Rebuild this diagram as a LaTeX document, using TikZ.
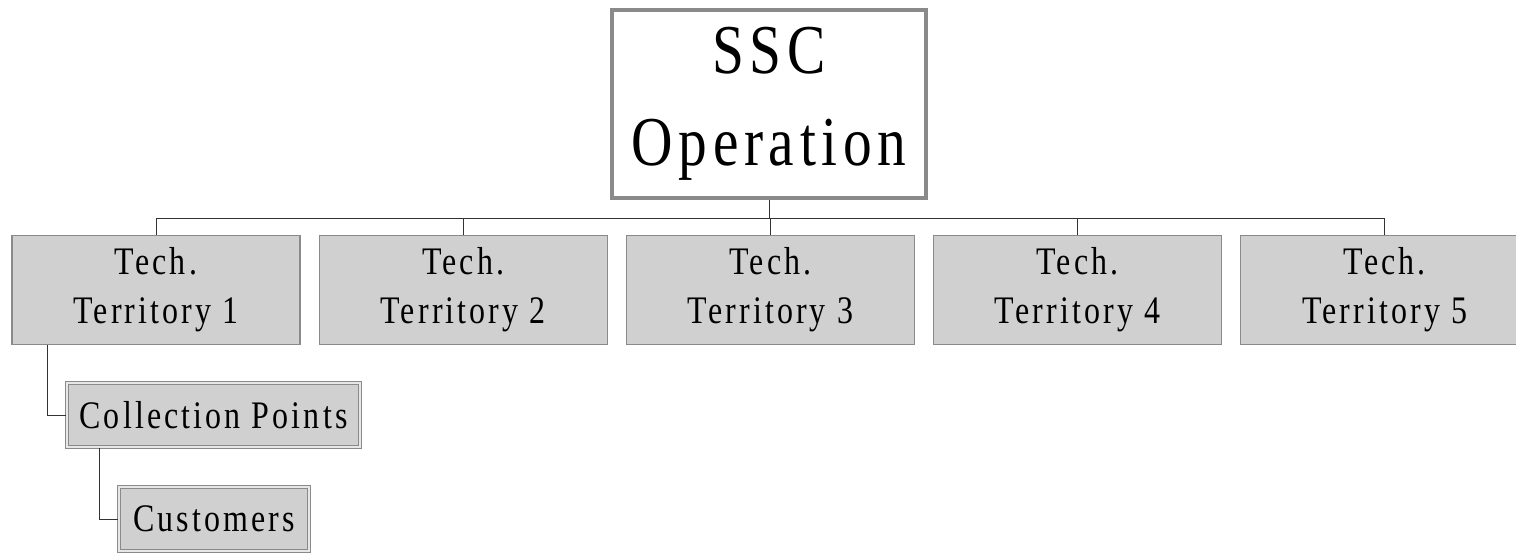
\documentclass[tikz,border=0pt]{standalone}
\usepackage{fontspec}
\setmainfont{Liberation Serif}
\newfontfamily\boxfont{Liberation Serif}[FakeStretch=0.82,LetterSpace=8]
\usetikzlibrary{positioning,calc}
\definecolor{boxfill}{HTML}{D0D0D0}
\definecolor{boxline}{HTML}{8A8A8A}
\definecolor{wirecol}{HTML}{333333}
\tikzset{
	topbox/.style={draw=boxline,line width=2pt,fill=white,minimum width=157pt,minimum height=94pt,align=center,inner sep=0pt,font=\boxfont\fontsize{35}{46}\selectfont},
	terrbox/.style={draw=boxline,line width=0.6pt,fill=boxfill,minimum width=144pt,minimum height=54.5pt,align=center,inner sep=0pt,font=\boxfont\fontsize{19.5}{24.5}\selectfont},
	subbox/.style={draw=boxline,line width=0.8pt,double=boxfill!50!white,double distance=0.7pt,fill=boxfill,minimum height=32pt,inner sep=0pt,font=\boxfont\fontsize{19.5}{24.5}\selectfont},
	wire/.style={draw=wirecol,line width=0.5pt}
}
\begin{document}
\begin{tikzpicture}[x=0.5pt,y=-0.5pt]
	\useasboundingbox (0,0) rectangle (1516,554);
	\clip (0,0) rectangle (1516,554);
	\node[topbox] (ssc) at (769,104) {SSC\\Operation};
	\node[terrbox] (t1) at (156,290) {Tech.\\Territory 1};
	\node[terrbox,right=9pt of t1] (t2) {Tech.\\Territory 2};
	\node[terrbox,right=9pt of t2] (t3) {Tech.\\Territory 3};
	\node[terrbox,right=9pt of t3] (t4) {Tech.\\Territory 4};
	\node[terrbox,right=9pt of t4] (t5) {Tech.\\Territory 5};
	\node[subbox,minimum width=146.5pt] (cp) at (213.5,415) {Collection Points};
	\node[subbox,minimum width=95pt] (cu) at (214,519) {Customers};
	\coordinate (bus) at (769,218);
	\draw[wire] (ssc.south) -- (bus);
	\draw[wire] (t1.north) |- (bus) -| (t5.north);
	\draw[wire] (bus -| t2.north) -- (t2.north);
	\draw[wire] (bus -| t3.north) -- (t3.north);
	\draw[wire] (bus -| t4.north) -- (t4.north);
	\draw[wire] ([xshift=18pt]t1.south west) |- (cp.west);
	\draw[wire] ([xshift=16.5pt]cp.south west) |- (cu.west);
\end{tikzpicture}
\end{document}
